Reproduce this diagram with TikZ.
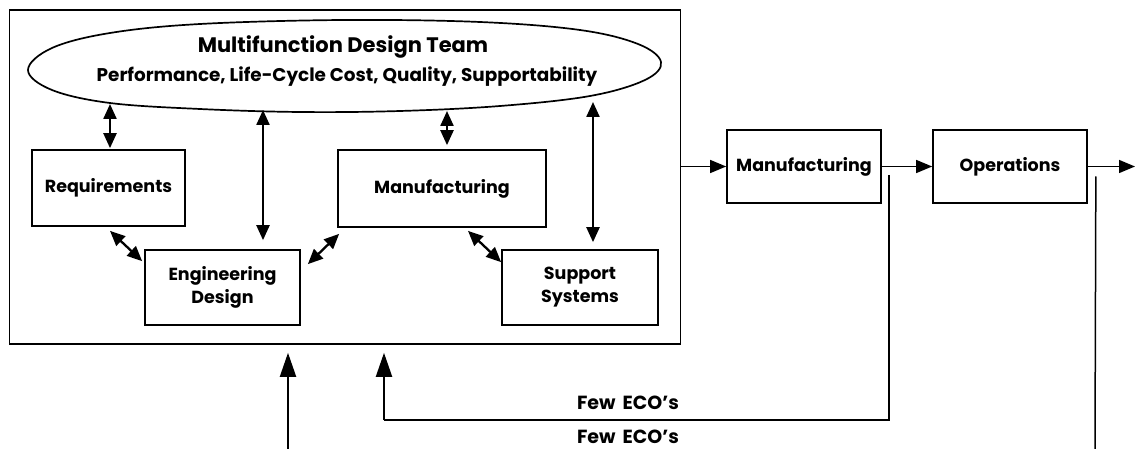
\documentclass[tikz,border=0pt]{standalone}
\usepackage{fontspec}
\setmainfont{Poppins}
\usetikzlibrary{arrows.meta,calc}
\tikzset{
  blk/.style={draw, line width=1.7pt, align=center, inner sep=0pt, font=\bfseries\fontsize{17.5}{23}\selectfont},
  lbl/.style={font=\bfseries\fontsize{19}{21}\selectfont, inner sep=0pt},
  tip/.style={-{Triangle[length=16pt,width=13pt]}, line width=1.5pt},
  bigtip/.style={-{Triangle[length=24pt,width=16pt]}, line width=2pt},
  dbl/.style={{Triangle[length=15pt,width=13pt]}-{Triangle[length=15pt,width=13pt]}, line width=2.3pt},
  ln/.style={line width=1.5pt},
}
\begin{document}
\begin{tikzpicture}[x=1pt,y=-1pt]
\useasboundingbox (0,0) rectangle (1136,449);
% outer frame
\node[draw, line width=1.6pt, minimum width=671pt, minimum height=334pt, inner sep=0pt] (outer) at (345,177) {};
% ellipse (team)
\draw[line width=1.7pt] plot[smooth cycle, tension=0.6] coordinates {
  (28,70) (52,48) (110,33) (200,24) (343,20) (480,22) (580,30) (638,44) (661,62)
  (645,80) (590,96) (500,106) (400,111) (300,112) (200,109) (110,103) (52,90)};
\node[font=\bfseries\fontsize{21}{25}\selectfont, inner sep=0pt] (team) at (343,47) {Multifunction Design Team};
\node[font=\bfseries\fontsize{18.4}{20}\selectfont, inner sep=0pt] (teamsub) at (347,77) {Performance, Life-Cycle Cost, Quality, Supportability};
\coordinate (e1) at (110,104);
\coordinate (e2) at (263,110);
\coordinate (e3) at (447,111);
\coordinate (e4) at (593,102);
% inner boxes
\node[blk, minimum width=153pt, minimum height=76pt] (req) at (108.5,188) {Requirements};
\node[blk, minimum width=208pt, minimum height=77pt] (mfgin) at (442,188.5) {Manufacturing};
\node[blk, minimum width=155pt, minimum height=75pt] (eng) at (222.5,287.5) {Engineering\\Design};
\node[blk, minimum width=156pt, minimum height=75pt] (sup) at (580,287.5) {Support\\Systems};
% outer boxes
\node[blk, minimum width=154pt, minimum height=73pt] (mfg) at (804,166.5) {Manufacturing};
\node[blk, minimum width=154pt, minimum height=73pt] (ops) at (1010,166.5) {Operations};
% team arrows
\draw[dbl] (e1) -- ($(e1 |- req.north)+(0,-1)$);
\draw[dbl] (e2) -- ($(e2 |- eng.north)+(0,-9)$);
\draw[dbl] (e3) -- ($(e3 |- mfgin.north)+(0,-4)$);
\draw[dbl] (e4) -- ($(e4 |- sup.north)+(0,-7)$);
% diagonal arrows
\draw[dbl] ($(req.south)+(1.5,4)$) -- ($(eng.north west)+(-2,12)$);
\draw[dbl] ($(eng.north east)+(7,15)$) -- ($(mfgin.south west)+(2,6)$);
\draw[dbl] ($(mfgin.south)+(26,3)$) -- ($(sup.north west)+(0,13)$);
% flow to the right
\coordinate (endR) at (1135,166.5);
\draw[tip] (outer.east |- mfg) -- (mfg.west);
\draw[tip] (mfg.east) -- (ops.west);
\draw[tip] (ops.east) -- (endR);
% feedback
\coordinate (fbc) at (384,420);
\coordinate (in1) at (288,449);
\coordinate (opsend) at (1095,449);
\draw[ln] ($(mfg.east)+(7,8.5)$) |- (fbc);
\draw[bigtip] (fbc) -- ($(fbc |- outer.south)+(0,8)$);
\draw[bigtip] (in1) -- ($(in1 |- outer.south)+(0,8)$);
\draw[ln] ($(ops.east)+(8,10)$) -- (opsend);
\node[lbl] (few1) at (628,403) {Few\hspace{3pt} ECO's};
\node[lbl] (few2) at (628,437) {Few\hspace{3pt} ECO's};
\end{tikzpicture}
\end{document}
